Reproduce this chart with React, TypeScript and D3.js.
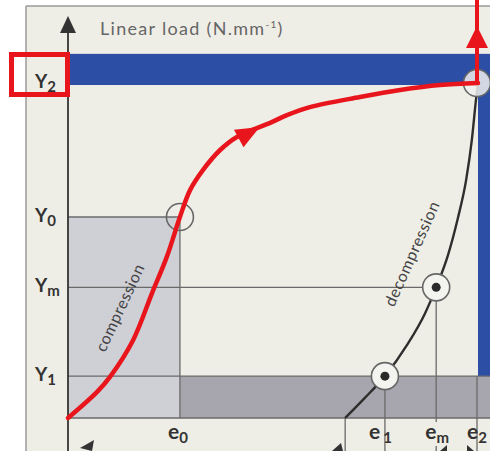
import React from 'react'
import * as d3 from 'd3'

// level labels on the load axis (Y2 is the top level)
const levelNames = ['Y2', 'Y0', 'Ym', 'Y1']
const levelValues = [100, 60, 39, 12.5]

// strain labels on the bottom
const strainNames = ['e0', 'e1', 'em', 'e2']
const strainValues = [27.3, 77.3, 89.8, 100]

// red loading curve (compression)
const compression = [
  [0, 0], [7.1, 7.8], [10.2, 12.2], [15.9, 23.3], [20.5, 37.3], [24.1, 48.1], [27.3, 60],
  [29.8, 68.1], [32.9, 74], [37.1, 80], [41.2, 83.9], [49.3, 88.1], [53.4, 90.4], [59, 92.8],
  [71.2, 95.8], [81, 97.9], [90.7, 99.4], [100, 100]
]

// black unloading curve (decompression)
const decompression = [
  [67.6, 0], [72.4, 6], [77.3, 12.5], [82.7, 21.8], [87.1, 31.3], [89.8, 39],
  [92.7, 48.7], [95.1, 59.7], [97.1, 71], [98.5, 83], [99.5, 94.9], [100, 100]
]

const W = 490
const H = 451

export default function App() {
  const x = d3.scaleLinear().domain([0, 100]).range([68, 478])
  const y = d3.scaleLinear().domain([0, 100]).range([418, 83])

  const redLine = d3.line<number[]>()
    .x(d => x(d[0]))
    .y(d => y(d[1]))
    .curve(d3.curveCatmullRom.alpha(0.5))

  const blackLine = d3.line<number[]>()
    .x(d => x(d[0]))
    .y(d => y(d[1]))
    .curve(d3.curveMonotoneX)

  const [Y2, Y0, Ym, Y1] = levelValues
  const [e0, e1, em, e2] = strainValues

  // arrow on the red curve
  const a0 = [x(37.1), y(80)]
  const a1 = [x(49.3), y(88.1)]
  const ang = Math.atan2(a1[1] - a0[1], a1[0] - a0[0])
  const ac = [x(43.7), y(84.8)]
  const L = 24, hw = 10
  const tip = [ac[0] + Math.cos(ang) * L * 0.6, ac[1] + Math.sin(ang) * L * 0.6]
  const back = [ac[0] - Math.cos(ang) * L * 0.4, ac[1] - Math.sin(ang) * L * 0.4]
  const arrow = `M${tip[0]},${tip[1]}L${back[0] - Math.sin(ang) * hw},${back[1] + Math.cos(ang) * hw}L${back[0] + Math.sin(ang) * hw},${back[1] - Math.cos(ang) * hw}Z`

  const font = 'Lato, "Noto Sans", sans-serif'
  const blue = '#2c4ea4'
  const red = '#e8161c'
  const gridc = '#6a6a6a'

  const marker = (cx: number, cy: number, dot: boolean, fill: string) => (
    <g>
      <circle cx={cx} cy={cy} r={13.5} fill={fill} stroke="#666" strokeWidth={1.6} />
      {dot && <circle cx={cx} cy={cy} r={4.5} fill="#2a2a2a" />}
    </g>
  )

  return (
    <div style={{ position: 'absolute', left: 0, top: 0 }}>
      <svg width={W} height={H} style={{ display: 'block' }}>
        <rect x={0} y={0} width={W} height={H} fill="#fff" />
        <rect x={26} y={6} width={W - 26} height={H - 6} fill="#efeee6" />
        <line x1={26} x2={26} y1={6} y2={H} stroke="#9a9a9a" strokeWidth={1.5} />
        <line x1={26} x2={W} y1={6} y2={6} stroke="#9a9a9a" strokeWidth={1.5} />

        {/* shaded areas */}
        <rect x={x(0)} y={y(Y0)} width={x(e0) - x(0)} height={y(0) - y(Y0)} fill="#cfcfd6" />
        <rect x={x(e0)} y={y(Y1)} width={W - x(e0)} height={y(0) - y(Y1)} fill="#a7a6ae" />

        {/* blue bands */}
        <rect x={x(0)} y={y(108.7)} width={W - x(0)} height={y(99.4) - y(108.7)} fill={blue} />
        <rect x={x(e2)} y={y(99.4)} width={W - x(e2)} height={y(Y1) - y(99.4)} fill={blue} />

        {/* reference lines */}
        <g stroke={gridc} strokeWidth={1.3} fill="none">
          <line x1={x(0)} x2={x(e0)} y1={y(Y0)} y2={y(Y0)} />
          <line x1={x(0)} x2={x(em)} y1={y(Ym)} y2={y(Ym)} />
          <line x1={x(0)} x2={W} y1={y(Y1)} y2={y(Y1)} />
          <line x1={x(0)} x2={W} y1={y(0)} y2={y(0)} />
          <line x1={x(e0)} x2={x(e0)} y1={y(Y0)} y2={y(0)} />
          <line x1={x(em)} x2={x(em)} y1={y(Ym)} y2={y(0) + 4} />
          <line x1={x(e1)} x2={x(e1)} y1={y(Y1)} y2={H} />
          <line x1={x(e2) - 1} x2={x(e2) - 1} y1={y(Y1)} y2={H} />
          <line x1={x(67.6)} x2={x(67.6)} y1={y(0)} y2={H} />
          <line x1={x(em)} x2={x(em)} y1={y(0) + 28} y2={H} />
        </g>

        {/* dimension arrow stubs at the bottom */}
        <g fill="#333">
          <path d="M80,448L94,440L92,451Z" />
          <path d="M332,451L341,443L343,451Z" />
          <path d="M440,451L447,445L447,451Z" />
          <path d="M474,451L467,445L467,451Z" />
        </g>

        {/* y axis */}
        <line x1={x(0)} x2={x(0)} y1={30} y2={H} stroke="#333" strokeWidth={1.8} />
        <path d={`M${x(0)},16L${x(0) - 8},33L${x(0) + 8},33Z`} fill="#333" />

        <text x={100} y={35} fontFamily={font} fontSize={18} letterSpacing={1.3} fill="#666">
          Linear load (N.mm<tspan dy={-7} fontSize={10}>-1</tspan><tspan dy={7}>)</tspan>
        </text>

        {/* curves */}
        <path d={blackLine(decompression) || ''} fill="none" stroke="#2e2e2e" strokeWidth={2.4} />

        {marker(x(e0), y(Y0), false, 'none')}
        {marker(x(e1), y(Y1), true, '#f3f3f0')}
        {marker(x(em), y(Ym), true, '#f3f3f0')}
        {marker(x(e2) - 1, y(Y2), false, 'rgba(240,240,238,0.85)')}

        <path d={redLine(compression) || ''} fill="none" stroke={red} strokeWidth={4.5} strokeLinecap="round" />
        <path d={arrow} fill={red} />
        <line x1={x(e2) - 1} x2={x(e2) - 1} y1={y(Y2)} y2={0} stroke={red} strokeWidth={4} />
        <path d={`M${x(e2) - 1},26L${x(e2) - 12},48L${x(e2) + 10},48Z`} fill={red} />

        {/* curve names */}
        <text transform="translate(125,310) rotate(-65)" textAnchor="middle" fontFamily={font}
          fontSize={16} letterSpacing={0.6} fill="#444">compression</text>
        <text transform="translate(417,256) rotate(-66)" textAnchor="middle" fontFamily={font}
          fontSize={16} letterSpacing={0.6} fill="#444">decompression</text>

        {/* level labels */}
        {levelNames.map((n, i) => (
          <text key={n} x={35} y={y(levelValues[i]) + 5} fontFamily={font} fontWeight={700}
            fontSize={19} fill="#333">
            {n[0]}<tspan dy={4} fontSize={15}>{n.slice(1)}</tspan>
          </text>
        ))}

        {/* strain labels */}
        {strainNames.map((n, i) => (
          <text key={n} x={x(strainValues[i]) - (i === 1 ? 16 : i === 0 ? 12 : 11)} y={439}
            fontFamily={font} fontWeight={700} fontSize={21} fill="#333">
            {n[0]}<tspan dy={4} fontSize={15} dx={i === 1 ? 3 : 0}>{n.slice(1)}</tspan>
          </text>
        ))}

        {/* highlight box around Y2 */}
        <rect x={11.5} y={54.5} width={56} height={40} fill="none" stroke={red} strokeWidth={5} />
      </svg>
    </div>
  )
}
